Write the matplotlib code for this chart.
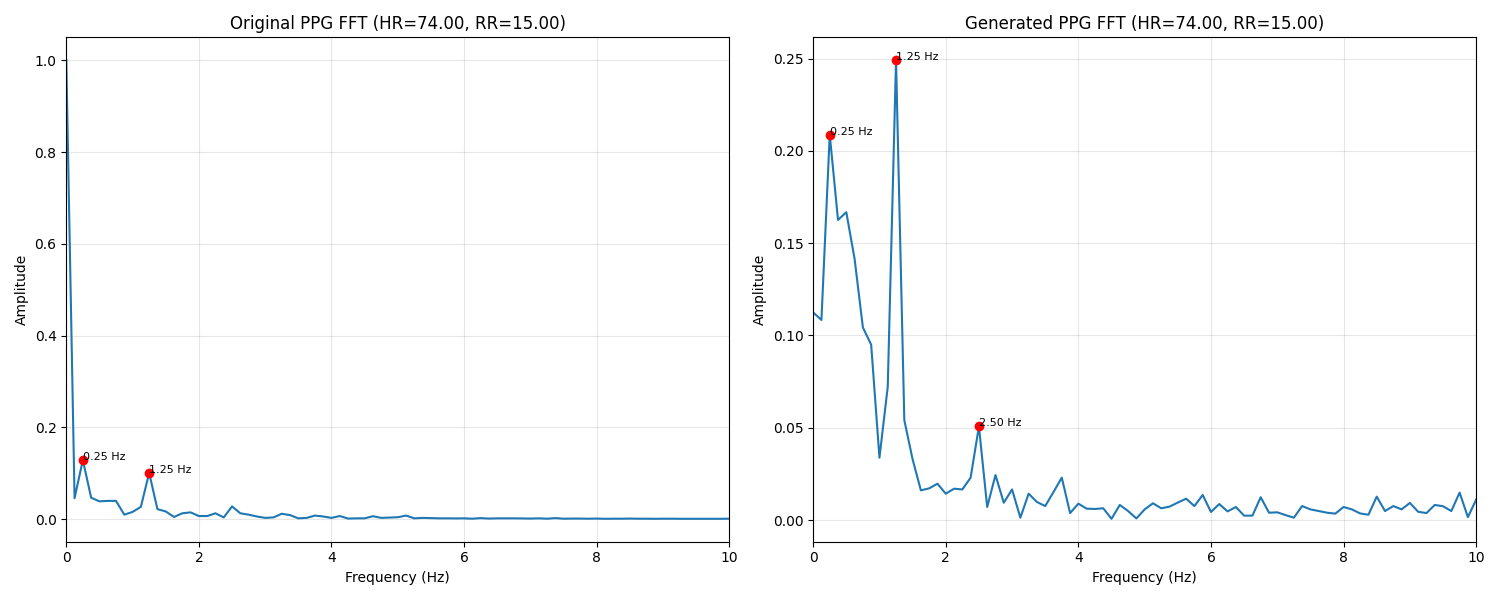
import matplotlib
matplotlib.use('Agg')
import matplotlib.pyplot as plt
import numpy as np

# frequency bins, 0.125 Hz resolution
freqs = np.arange(81) * 0.125

# original PPG spectrum (normalised amplitude)
orig_amp = [
    1.000, 0.046, 0.129, 0.047, 0.039, 0.040, 0.040, 0.010, 0.016, 0.027,
    0.101, 0.022, 0.017, 0.005, 0.013, 0.015, 0.007, 0.007, 0.013, 0.004,
    0.028, 0.013, 0.010, 0.006, 0.003, 0.004, 0.012, 0.009, 0.002, 0.003,
    0.008, 0.006, 0.003, 0.007, 0.0015, 0.002, 0.002, 0.0066, 0.003, 0.0037,
    0.0044, 0.008, 0.002, 0.003, 0.0025, 0.002, 0.002, 0.0018, 0.002, 0.0012,
    0.0025, 0.0015, 0.002, 0.002, 0.002, 0.0018, 0.0015, 0.002, 0.0012, 0.0025,
    0.0012, 0.0015, 0.0015, 0.0012, 0.0015, 0.001, 0.0012, 0.0012, 0.0015, 0.0012,
    0.0012, 0.001, 0.0012, 0.0012, 0.001, 0.001, 0.001, 0.001, 0.001, 0.001,
    0.0012,
]

# generated PPG spectrum
gen_amp = [
    0.1125, 0.1084, 0.2088, 0.1626, 0.1668, 0.1415, 0.1044, 0.0950, 0.0338, 0.0722,
    0.2491, 0.0541, 0.0329, 0.0161, 0.0172, 0.0197, 0.0143, 0.0170, 0.0166, 0.0230,
    0.0507, 0.0071, 0.0244, 0.0094, 0.0166, 0.0013, 0.0143, 0.0098, 0.0076, 0.0152,
    0.0230, 0.0038, 0.0089, 0.0062, 0.0060, 0.0064, 0.0007, 0.0082, 0.0049, 0.0009,
    0.0058, 0.0091, 0.0064, 0.0073, 0.0095, 0.0116, 0.0076, 0.0136, 0.0044, 0.0087,
    0.0047, 0.0071, 0.0024, 0.0024, 0.0124, 0.0040, 0.0042, 0.0027, 0.0013, 0.0076,
    0.0058, 0.0049, 0.0040, 0.0035, 0.0071, 0.0058, 0.0036, 0.0029, 0.0127, 0.0049,
    0.0076, 0.0058, 0.0093, 0.0045, 0.0038, 0.0082, 0.0075, 0.0049, 0.0149, 0.0016,
    0.0111,
]

orig_peaks = [2, 10]
gen_peaks = [2, 10, 20]

hr, rr = 74.00, 15.00

fig, axes = plt.subplots(1, 2, figsize=(15, 6))

panels = [
    (axes[0], orig_amp, orig_peaks, 'Original'),
    (axes[1], gen_amp, gen_peaks, 'Generated'),
]

for ax, amp, peaks, name in panels:
    amp = np.array(amp)
    ax.plot(freqs, amp)
    ax.plot(freqs[peaks], amp[peaks], 'ro')
    for p in peaks:
        ax.text(freqs[p], amp[p], '%.2f Hz' % freqs[p], fontsize=8)
    ax.set_xlim(0, 10)
    ax.set_title('%s PPG FFT (HR=%.2f, RR=%.2f)' % (name, hr, rr))
    ax.set_xlabel('Frequency (Hz)')
    ax.set_ylabel('Amplitude')
    ax.grid(True, alpha=0.3)

plt.tight_layout()
plt.savefig('out.png', dpi=100)
